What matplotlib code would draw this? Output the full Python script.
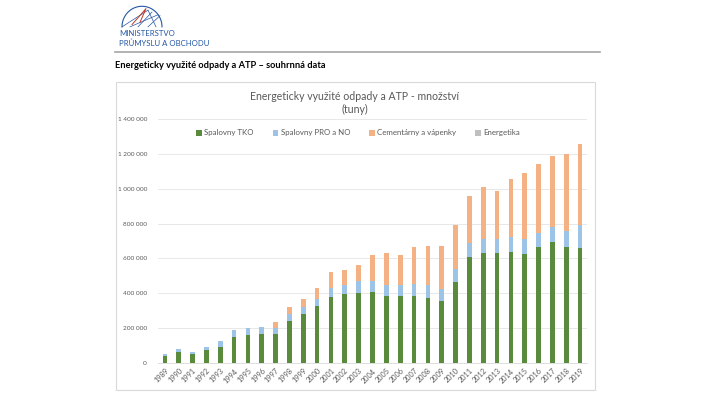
import matplotlib
matplotlib.use('Agg')
import matplotlib.pyplot as plt
import numpy as np
from matplotlib.ticker import FuncFormatter, MultipleLocator

plt.rcParams['font.family'] = ['Lato', 'DejaVu Sans']

# data in tonnes
years = [str(y) for y in range(1989, 2020)]
tko = [40, 65, 52, 76, 93, 151, 159, 164, 166, 239, 279, 327, 376, 395, 403,
       405, 384, 386, 386, 371, 355, 462, 609, 630, 634, 638, 626, 663, 697,
       663, 659]
pro_no = [10, 13, 13, 17, 31, 38, 40, 40, 36, 42, 44, 43, 55, 52, 67, 67,
          63, 61, 70, 76, 69, 75, 77, 79, 75, 86, 85, 84, 86, 93, 130]
cement = [0, 0, 0, 0, 0, 0, 0, 0, 33, 42, 47, 61, 89, 86, 91, 148, 185, 173,
          210, 225, 246, 255, 273, 299, 277, 334, 381, 395, 405, 444, 470]
energetika = [0] * 31

series = [
    ('Spalovny TKO', tko, '#5A8A3C'),
    ('Spalovny PRO a NO', pro_no, '#9DC3E6'),
    ('Cementárny a vápenky', cement, '#F4B183'),
    ('Energetika', energetika, '#BFBFBF'),
]

W, H = 712, 400
fig = plt.figure(figsize=(W / 100, H / 100), dpi=100)
fig.patch.set_facecolor('white')

# header: ministry logo text, separator, slide title
fig.text(119 / W, 1 - 33 / H, 'MINISTERSTVO', fontsize=5.6, color='#2456A4',
         va='center', ha='left')
fig.text(119 / W, 1 - 43 / H, 'PRŮMYSLU A OBCHODU', fontsize=5.6,
         color='#2456A4', va='center', ha='left')
logo = fig.add_axes([120 / W, 1 - 28 / H, 44 / W, 24 / H])
t = np.linspace(0, np.pi, 40)
logo.plot(np.cos(t), np.sin(t) * 0.9, color='#2456A4', lw=0.8)
for a, b in [(-1, 0.3), (-0.6, 0.8), (-0.2, 0.5), (0.3, 0.9), (0.7, 0.3)]:
    logo.plot([a, b], [0, 0.85 - abs(b) * 0.4], color='#2456A4', lw=0.5)
logo.plot([-0.5, 0.2, -0.1], [0.1, 0.8, 0.2], color='#C0392B', lw=0.7)
logo.set_xlim(-1.1, 1.1)
logo.set_ylim(-0.05, 1.0)
logo.axis('off')

fig.add_artist(plt.Line2D([115 / W, 600 / W], [1 - 52 / H, 1 - 52 / H],
                          color='#A6A6A6', lw=1.2))
fig.text(115 / W, 1 - 66 / H,
         'Energeticky využité odpady a ATP – souhrnná data',
         fontsize=6.7, fontweight='bold', color='black', va='center', ha='left')

# chart frame
fig.add_artist(plt.Rectangle((116 / W, 1 - 390 / H), (595 - 116) / W,
                             (390 - 82) / H, fill=False, ec='#D9D9D9', lw=0.8))
fig.text(355 / W, 1 - 96 / H, 'Energeticky využité odpady a ATP - množství',
         fontsize=7.6, color='#595959', ha='center', va='center')
fig.text(355 / W, 1 - 109 / H, '(tuny)', fontsize=7.6, color='#595959',
         ha='center', va='center')

ax = fig.add_axes([158 / W, 1 - 363 / H, (587 - 158) / W, (363 - 119) / H])
x = np.arange(len(years))
bottom = np.zeros(len(years))
handles = []
for name, vals, col in series:
    v = np.array(vals) * 1000.0
    b = ax.bar(x, v, 0.34, bottom=bottom, color=col, label=name, zorder=3)
    handles.append(b)
    bottom += v

ax.set_xlim(-0.5, len(years) - 0.5)
ax.set_ylim(0, 1400000)
ax.yaxis.set_major_locator(MultipleLocator(200000))
ax.yaxis.set_major_formatter(
    FuncFormatter(lambda v, p: f'{v:,.0f}'.replace(',', ' ')))
ax.grid(axis='y', color='#E4E4E4', lw=0.6, zorder=0)
for s in ['top', 'right', 'left']:
    ax.spines[s].set_visible(False)
ax.spines['bottom'].set_color('#D9D9D9')
ax.spines['bottom'].set_linewidth(0.6)
ax.tick_params(axis='y', length=0, labelsize=4.6, colors='#595959', pad=8)
ax.set_xticks(x)
ax.set_xticklabels(years, rotation=45, ha='right', rotation_mode='anchor')
ax.tick_params(axis='x', length=0, labelsize=5.3, colors='#595959', pad=3)

fig.legend(handles=handles, loc='center', bbox_to_anchor=(358 / W, 1 - 133 / H),
           ncol=4, frameon=False, fontsize=5.7, handlelength=0.7,
           handleheight=0.7, handletextpad=0.3, columnspacing=2.4,
           labelcolor='#595959')

fig.savefig('out.png', dpi=100, facecolor='white')
